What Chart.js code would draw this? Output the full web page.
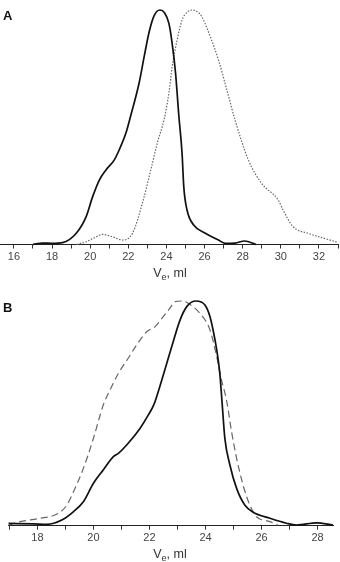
<!DOCTYPE html>
<html>
<head>
<meta charset="utf-8">
<script src="https://cdn.jsdelivr.net/npm/chart.js@4/dist/chart.umd.min.js"></script>
<style>
  html, body { margin: 0; padding: 0; background: #fff; }
  #wrap { position: relative; width: 340px; height: 562px; overflow: hidden; }
  canvas { position: absolute; left: 0; }
  .lbl { position: absolute; font: bold 13px "Liberation Sans", Arial, sans-serif; color: #111; }
</style>
</head>
<body>
<div id="wrap">
  <canvas id="chartA" width="340" height="280" style="top:0"></canvas>
  <canvas id="chartB" width="340" height="282" style="top:280px"></canvas>
  <div class="lbl" style="left:3px;top:8px;">A</div>
  <div class="lbl" style="left:3px;top:300px;">B</div>
</div>
<script>
// Panel A: solid trace
const aSolidX = [17.0, 17.5, 18.0, 18.55, 19.27, 19.79, 20.13, 20.48, 20.83, 21.26, 21.52, 21.87, 22.13, 22.57, 22.83, 23.09, 23.35, 23.66, 23.9, 24.13, 24.30, 24.48, 24.65, 24.82, 24.91, 25.08, 25.43, 26.04, 26.73, 27.08, 27.6, 28.1, 28.7];
const aSolidY = [0, 0.6, 0.5, 0.8, 4.8, 11.9, 20.4, 27.5, 31.8, 36, 40.3, 47.4, 55, 69, 80, 90.5, 97.5, 100, 98.8, 94.3, 85.8, 73, 55, 38.9, 24.6, 14.7, 8.3, 4.8, 1.9, 0.5, 0.6, 1.5, 0];
// Panel A: dotted trace
const aDotX = [19.3, 19.8, 20.2, 20.65, 21.2, 21.7, 22.22, 22.74, 23.18, 23.52, 23.87, 24.13, 24.30, 24.56, 24.82, 25.08, 25.38, 25.6, 25.86, 26.30, 26.73, 27.17, 27.60, 28.30, 28.99, 29.86, 30.12, 30.64, 31.42, 32.29, 33.0];
const aDotY = [0, 1.2, 2.8, 4.3, 3.2, 1.9, 4.8, 17.6, 31.8, 43.2, 53.1, 64.5, 75.8, 87.2, 95.7, 99, 100, 99.4, 97.1, 88.6, 78.7, 65.9, 53.1, 36, 26.1, 19, 14.7, 7.6, 4.8, 2.6, 0.9];
// Panel B: solid trace
const bSolidX = [16.97, 17.86, 18.34, 18.87, 19.28, 19.64, 20.0, 20.35, 20.71, 20.89, 21.24, 21.66, 21.96, 22.16, 22.37, 22.61, 22.79, 23.09, 23.33, 23.66, 23.98, 24.16, 24.27, 24.40, 24.51, 24.59, 24.69, 24.87, 25.11, 25.40, 25.70, 26.30, 26.89, 27.25, 27.96, 28.55];
const bSolidY = [1, 0.8, 0.6, 2.5, 6.2, 10.7, 18.9, 24.8, 30.7, 32.2, 36.7, 43.3, 49.3, 54, 62, 72, 79.5, 91.5, 97.5, 100, 98.2, 93, 87.1, 78.2, 67.8, 55, 38.9, 27, 16.6, 9.2, 6, 3.3, 1.1, 0.3, 1.3, 0.3];
// Panel B: dashed trace
const bDashX = [16.97, 17.38, 18.1, 18.75, 19.05, 19.34, 19.64, 20.0, 20.35, 20.59, 20.89, 21.24, 21.54, 21.90, 22.20, 22.49, 22.73, 22.91, 23.2, 23.38, 23.80, 24.16, 24.40, 24.57, 24.75, 24.93, 25.11, 25.34, 25.58, 25.82, 26.30, 26.59];
const bDashY = [0.3, 1.8, 3.3, 5.5, 9.2, 16.6, 25.5, 38.9, 53.7, 60.4, 67.8, 74.5, 80.4, 86.3, 88.6, 93, 96.8, 99.7, 100, 99, 94.5, 87.1, 75.2, 64.8, 55.9, 41.8, 30, 18.1, 9.2, 4, 1.8, 0.2];

const FONT = '"Liberation Sans", Arial, sans-serif';

function pts(xs, ys) { return xs.map((x, i) => ({ x: x, y: ys[i] })); }

// axis title with subscript: "Ve, ml"
function titlePlugin(yPos) {
    return {
        id: 'veTitle',
        afterDraw(chart) {
            const ctx = chart.ctx;
            ctx.save();
            ctx.fillStyle = '#333';
            ctx.textBaseline = 'alphabetic';
            ctx.font = '12.5px ' + FONT;
            const w1 = ctx.measureText('V').width;
            const w3 = ctx.measureText(', ml').width;
            ctx.font = '9px ' + FONT;
            const w2 = ctx.measureText('e').width;
            let x = chart.width / 2 - (w1 + w2 + w3) / 2;
            ctx.font = '12.5px ' + FONT;
            ctx.fillText('V', x, yPos); x += w1;
            ctx.font = '9px ' + FONT;
            ctx.fillText('e', x, yPos + 3); x += w2;
            ctx.font = '12.5px ' + FONT;
            ctx.fillText(', ml', x, yPos);
            ctx.restore();
        }
    };
}

function makeChart(id, datasets, xMin, xMax, pad, axisH, titleY) {
    return new Chart(document.getElementById(id).getContext('2d'), {
        type: 'line',
        data: { datasets: datasets },
        options: {
            responsive: false, animation: false,
            layout: { padding: pad },
            plugins: { legend: { display: false }, tooltip: { enabled: false } },
            elements: { point: { radius: 0 }, line: { cubicInterpolationMode: 'monotone' } },
            scales: {
                x: {
                    type: 'linear', min: xMin, max: xMax,
                    afterFit: (s) => { s.height = axisH; },
                    ticks: { stepSize: 1, includeBounds: false, autoSkip: false, maxRotation: 0, padding: 2, color: '#444', font: { size: 11, family: FONT },
                        callback: (v) => (v % 2 === 0 ? String(v) : '') },
                    grid: { drawOnChartArea: false, drawTicks: true, tickLength: 4, color: '#333' },
                    border: { color: '#222', width: 1 }
                },
                y: { display: false, min: 0, max: 100 }
            }
        },
        plugins: [titlePlugin(titleY)]
    });
}

makeChart('chartA', [
    { data: pts(aSolidX, aSolidY), borderColor: '#111', borderWidth: 1.7, clip: false },
    { data: pts(aDotX, aDotY), borderColor: '#666', borderWidth: 1.2, borderDash: [1.5, 1.5], clip: false }
], 15.27, 33, { top: 10, left: 0, right: 0, bottom: 0 }, 35.5, 277);

makeChart('chartB', [
    { data: pts(bSolidX, bSolidY), borderColor: '#111', borderWidth: 1.7, clip: false },
    { data: pts(bDashX, bDashY), borderColor: '#666', borderWidth: 1.2, borderDash: [7, 4], clip: false }
], 16.95, 28.55, { top: 21, left: 8, right: 7, bottom: 0 }, 36.3, 278);
</script>
</body>
</html>
